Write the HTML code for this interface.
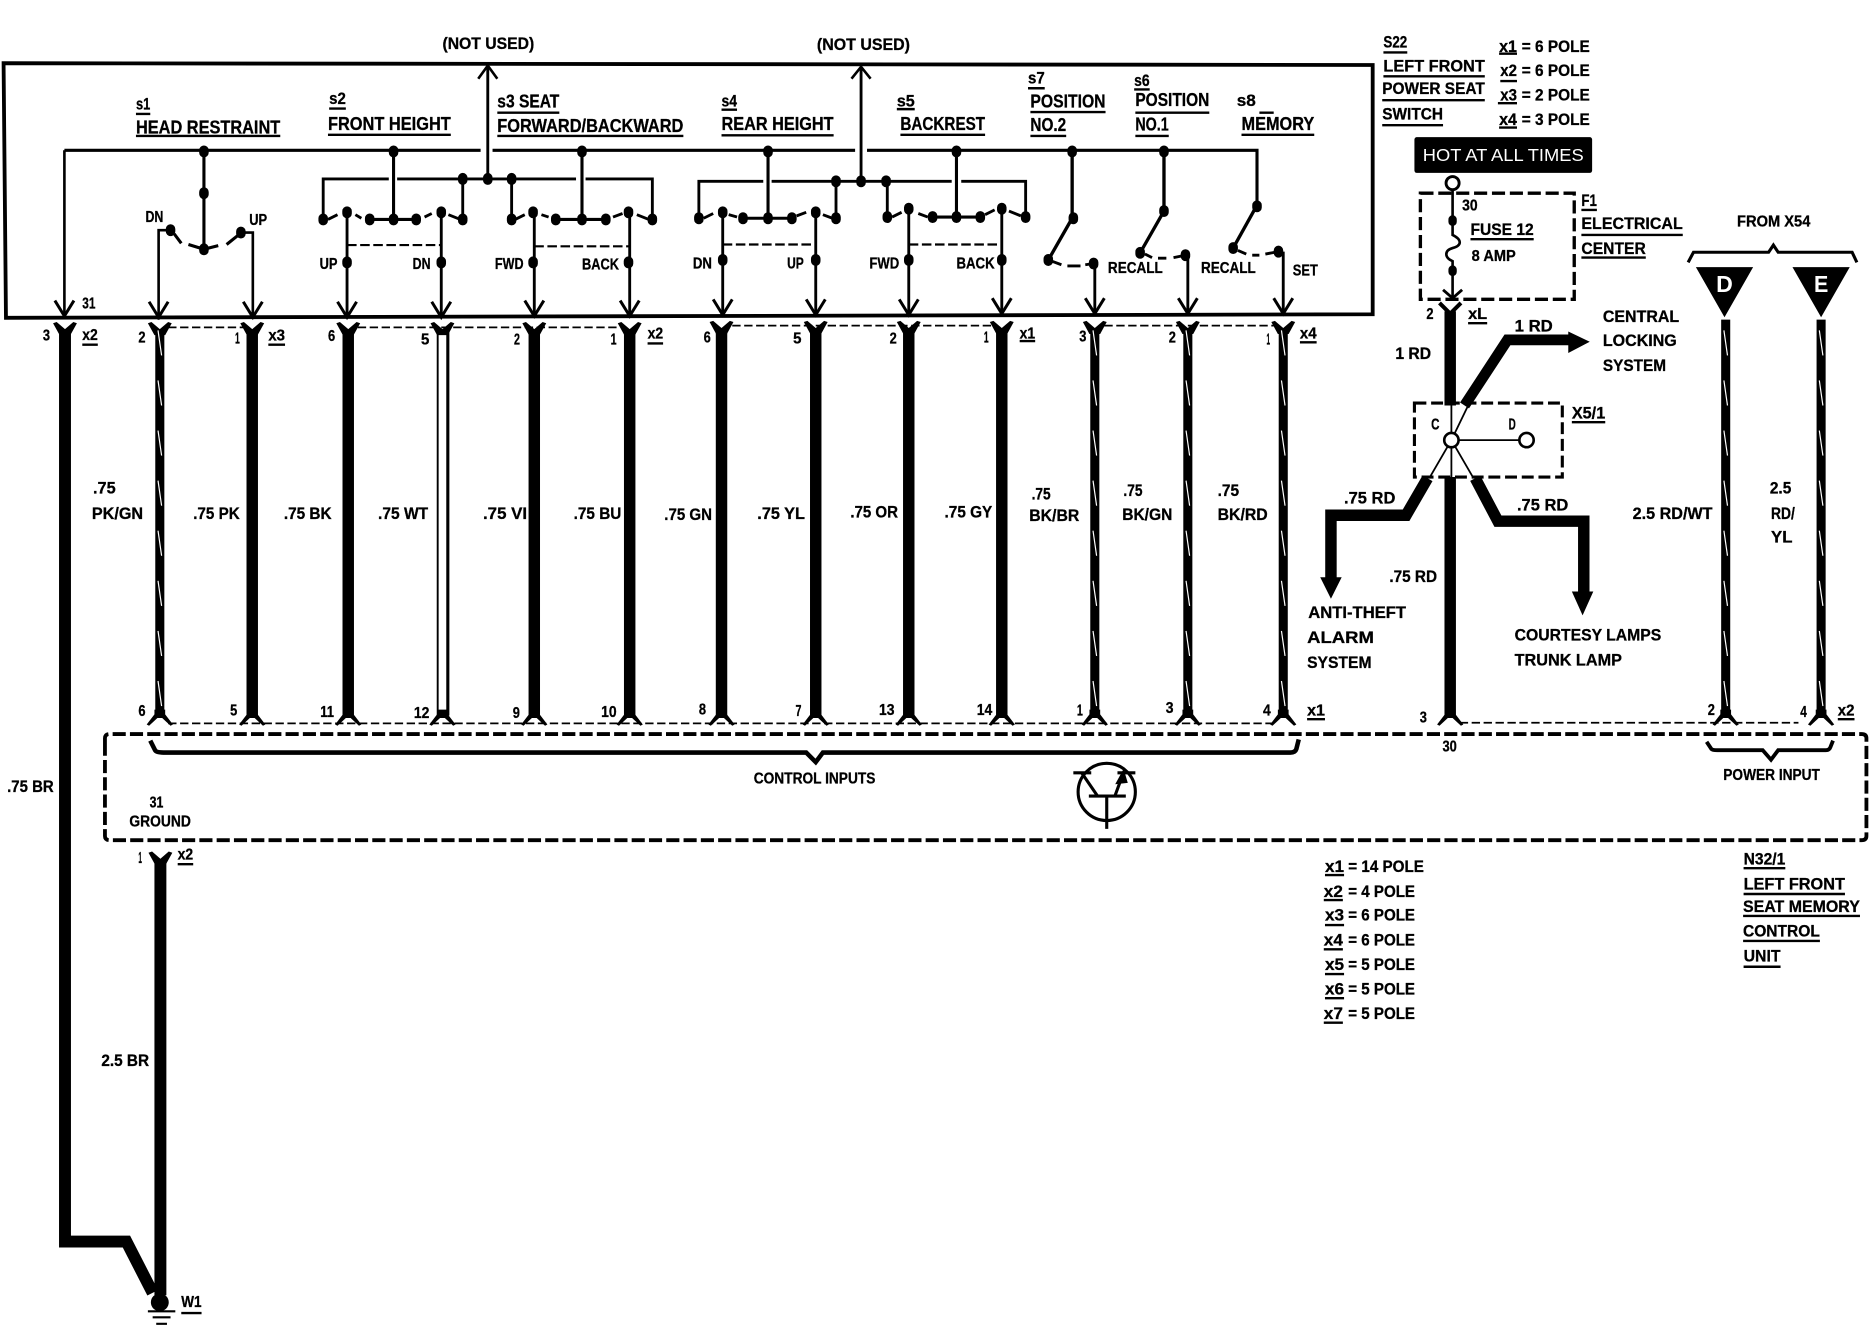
<!DOCTYPE html>
<html><head><meta charset="utf-8"><title>Seat memory wiring diagram</title>
<style>
html,body{margin:0;padding:0;background:#fff}
svg{display:block;width:1870px;height:1328px}
text{font-family:"Liberation Sans",sans-serif;font-weight:bold;fill:#000;font-size:14px;stroke:#000;stroke-width:.25}
.b{font-size:15.5px}.s{font-size:13px}
</style></head><body>
<svg viewBox="0 0 1568 1113.5" preserveAspectRatio="none" xmlns="http://www.w3.org/2000/svg">
<defs>
<g id="a"><path d="M-8,-13L0,0L8,-13" fill="none" stroke="#000" stroke-width="2.5"/></g>
<g id="t"><path d="M-10,0L-7,-1L0,5L7,-1L10,0L4.5,10H-4.5Z" fill="#000"/></g>
<g id="f"><path d="M-11,9.5L-9,10.5L-2,4L2,4L9,10.5L11,9.5L4.5,1V-3H-4.5V1Z" fill="#000"/></g>
<g id="r"><path d="M-1.5,277l3,21M-1.5,319l3,21M-1.5,361l3,21M-1.5,403l3,21M-1.5,445l3,21M-1.5,487l3,21M-1.5,529l3,21M-1.5,571l3,21" fill="none" stroke="#fff" stroke-width="1"/></g>
</defs>
<rect width="1568" height="1113.5" fill="#fff"/>

<!-- switch box -->
<path d="M3,53L1151,54.5V263.5L5,266.5Z" fill="none" stroke="#000" stroke-width="3.2"/>

<!-- buses -->
<g fill="none" stroke="#000">
<path d="M54,126H403M413,126H717M727,126H1054V173" stroke-width="2.6"/>
<path d="M271,184V150H326M333,150H483M491,150H547V184M388,150V184M429,150V184" stroke-width="2.4"/>
<path d="M586,183V152H640M647,152H798M806,152H860V182M701,152V183M744,152V182" stroke-width="2.4"/>
<path d="M409,150V55M722,152V56" stroke-width="2.4"/>
<path d="M401,66L409,55L417,66M714,66L722,56L730,66" stroke-width="2.2"/>
<!-- drop wires -->
<path d="M54,126V265M133,268V193H143M212,266V195H203" stroke-width="2.2"/>
<path d="M171,126V208M330,126V184M488,126V184M644,126V183M802,126V182" stroke-width="2.6"/>
<path d="M291,178V266M370,178V266M448,178V266M528,178V266M606,178V265M684,178V265M762,175V265M840,175V264M918,221V264M996,214V264M1076,211V264" stroke-width="2.4"/>
<path d="M310,184H350M466,184H508M623,183H664M782,182H822" stroke-width="2.6"/>
<!-- movable contacts -->
<path d="M146,196L152,204M158,205L171,209L183,206M190,205L200,197" stroke-width="2.6"/>
<path d="M275,184L283,180M298,180L303,183M356,182L362,179M376,180L386,184M432,184L440,180M454,180L460,182M514,182L522,179M534,180L544,184" stroke-width="2.4"/>
<path d="M590,183L598,179M611,180L618,182M668,181L676,178M690,180L698,183M748,182L756,178M770,179L778,182M826,180L834,176M846,177L856,181" stroke-width="2.4"/>
<path d="M899,126V183L879,218" stroke-width="2.8"/>
<path d="M976,126V177L956,212" stroke-width="2.8"/>
<path d="M1054,172L1034,208" stroke-width="2.8"/>
<path d="M882,219L890,222M895,223H906M910,222L917,221" stroke-width="2.4"/>
<path d="M960,213L966,216M971,216.5H978M984,216L994,214" stroke-width="2.4"/>
<path d="M1038,210L1045,213M1050,214H1056M1061,213L1072,211" stroke-width="2.4"/>
<!-- dashed ganged -->
<path d="M291,205.5H370M448,206.5H527M606,205H684M762,205H840" stroke-width="1.8" stroke-dasharray="8 3"/>
<!-- connector dashes -->
<path d="M141,274.5H204M300,274.5H520M614,273H832M926,273H1068M141,606.5H1070M1224,606H1508" stroke-width="1.5" stroke-dasharray="7 3"/>
<!-- control unit -->
<path d="M88,625V619Q88,615.5 92,615.5H1561Q1565,615.5 1565,619V701Q1565,704.5 1561,704.5H92Q88,704.5 88,701V625" stroke-width="3.2" stroke-dasharray="11 3.5"/>
<!-- fuse box -->
<path d="M1191,162H1320V251H1191Z" stroke-width="2.8" stroke-dasharray="11 4"/>
<!-- X5/1 box -->
<path d="M1186,338H1310V400H1186Z" stroke-width="2.6" stroke-dasharray="10 4"/>
<!-- braces -->
<path d="M126,621L130,629Q131,631 137,631H676L684,639L690,631H1082Q1086,631 1087,628L1089,620" stroke-width="3.8"/>
<path d="M1431,622L1435,628Q1436,629 1440,629H1478L1485,637L1491,629H1531Q1534,629 1535,626L1537,621" stroke-width="3.2"/>
<path d="M1415.5,220L1420,211.5H1483L1487,205.5L1491,211.5H1553L1557,220" stroke-width="2.6"/>
<!-- transistor -->
<ellipse cx="928" cy="664" rx="24" ry="24" stroke-width="2.6"/>
<path d="M900,648H915M907,648L920,667M913,667.5H944M928,667V695M942,648L935,667M937,648H952" stroke-width="2.6"/>
<path d="M942,646L936,657L945,656Z" fill="#000" stroke-width="1"/>
<!-- fuse wire -->
<path d="M1218,158V197C1226,201 1226,206 1218,208C1211,210 1211,216 1218,219V250" stroke-width="2.2"/>
<path d="M1210,243L1218,250L1226,243" stroke-width="2.4"/>
<path d="M1207,254L1216,263L1225,254" stroke-width="3.4"/>
<!-- junction thin lines -->
<path d="M1217,340V400M1217,369L1232,338M1217,369L1199,400M1217,369L1235,400M1217,369H1280" stroke-width="1.5"/>
<!-- thick branches -->
<path d="M1228,340L1264,285H1316" stroke-width="9"/>
<path d="M1197,401L1179,432H1116V486" stroke-width="9.6"/>
<path d="M1237,401L1256,437H1328V498" stroke-width="9.6"/>
<!-- main thick wires -->
<path d="M54.5,278V1041H106L128,1084M134.5,722V1086" stroke-width="10" stroke-linejoin="miter"/>
<path d="M211.5,278V600M292,278V600M448,278V600M528,278V600M605,278V600M684,278V600M762,278V600M840,278V600M1216,261V340M1216,400V600" stroke-width="9.6"/>
<path d="M134,278V600M918,278V600M996,278V600M1076,278V600M1447,268V600M1527,268V600" stroke-width="7.6"/>
<path d="M367,278V600" stroke-width="1.6"/><path d="M375.5,278V600" stroke-width="2.6"/>
</g>

<!-- dots -->
<path d="M171,126v2M330,126v2M488,126v2M644,126v2M802,126v2M899,126v2M976,126v2M171,161v2M171,208v2M143,192v2M202,194v2M271,183v2M291,177v2M310,183v2M330,183v2M349,183v2M370,177v2M388,183v2M388,149v2M409,149v2M429,149v2M429,183v2M447,177v2M466,183v2M488,183v2M508,183v2M527,177v2M547,183v2M291,219v2M370,219v2M447,219v2M527,219v2M586,182v2M606,177v2M623,182v2M644,182v2M664,182v2M684,177v2M701,182v2M701,151v2M722,151v2M743,151v2M744,181v2M762,174v2M782,181v2M802,181v2M822,181v2M840,174v2M860,181v2M606,217v2M684,217v2M762,217v2M840,217v2M900,182v2M879,217v2M917,220v2M976,176v2M956,211v2M994,213v2M1054,172v2M1034,207v2M1072,210v2" fill="none" stroke="#000" stroke-width="8" stroke-linecap="round"/>
<path d="M1218,184v2M1218,226v2" fill="none" stroke="#000" stroke-width="7" stroke-linecap="round"/>

<!-- arrows into box -->
<g>
<use href="#a" x="54" y="265"/><use href="#a" x="133" y="266"/><use href="#a" x="212" y="266"/><use href="#a" x="291" y="266"/><use href="#a" x="370" y="266"/><use href="#a" x="448" y="265"/><use href="#a" x="528" y="265"/><use href="#a" x="606" y="264"/><use href="#a" x="684" y="264"/><use href="#a" x="762" y="264"/><use href="#a" x="840" y="263"/><use href="#a" x="918" y="263"/><use href="#a" x="996" y="263"/><use href="#a" x="1076" y="263"/>
</g>
<!-- top forks -->
<g>
<use href="#t" x="54.5" y="271"/><use href="#t" x="134" y="271"/><use href="#t" x="211.5" y="271"/><use href="#t" x="292" y="271"/><use href="#t" x="371" y="271"/><use href="#t" x="448" y="271"/><use href="#t" x="528" y="271"/><use href="#t" x="605" y="270"/><use href="#t" x="684" y="270"/><use href="#t" x="762" y="270"/><use href="#t" x="840" y="270"/><use href="#t" x="918" y="270"/><use href="#t" x="996" y="270"/><use href="#t" x="1076" y="270"/>
</g>
<!-- bottom forks -->
<g>
<use href="#f" x="134" y="598"/><use href="#f" x="211.5" y="598"/><use href="#f" x="292" y="598"/><use href="#f" x="371" y="598"/><use href="#f" x="448" y="598"/><use href="#f" x="528" y="598"/><use href="#f" x="605" y="598"/><use href="#f" x="684" y="598"/><use href="#f" x="762" y="598"/><use href="#f" x="840" y="598"/><use href="#f" x="918" y="598"/><use href="#f" x="996" y="598"/><use href="#f" x="1076" y="598"/><use href="#f" x="1216" y="598"/><use href="#f" x="1447" y="598"/><use href="#f" x="1527" y="598"/>
</g>
<use href="#t" x="134.5" y="715"/>
<!-- stripes -->
<g>
<use href="#r" x="134"/><use href="#r" x="918"/><use href="#r" x="996"/><use href="#r" x="1076"/><use href="#r" x="1447"/><use href="#r" x="1527"/>
</g>
<!-- arrow heads right -->
<path d="M1315,278L1333,286.5L1315,296ZM1107,484H1125L1116,502ZM1318,496H1336L1327,516Z" fill="#000"/>
<!-- D / E triangles -->
<path d="M1422,224H1470L1446,266ZM1503,224H1551L1527,266Z" fill="#000"/>
<text x="1439" y="245" style="font-size:19px;fill:#fff;stroke:none" textLength="14" lengthAdjust="spacingAndGlyphs">D</text>
<text x="1521" y="245" style="font-size:19px;fill:#fff;stroke:none" textLength="12" lengthAdjust="spacingAndGlyphs">E</text>
<!-- circles -->
<circle cx="1218" cy="153.5" r="5.5" fill="#fff" stroke="#000" stroke-width="2.4"/>
<circle cx="1217" cy="369" r="6" fill="#fff" stroke="#000" stroke-width="2.2"/>
<circle cx="1280" cy="369" r="6" fill="#fff" stroke="#000" stroke-width="2.2"/>
<!-- ground -->
<circle cx="134" cy="1092" r="7.5" fill="#000"/>
<path d="M124,1099.5H147M128,1104.5H143M131,1110H140" stroke="#000" stroke-width="1.8"/>
<!-- hot label -->
<rect x="1186" y="115" width="149" height="30" rx="2" fill="#000"/>
<text x="1193" y="135" style="fill:#fff;stroke:none;font-weight:normal;font-size:15px" textLength="135" lengthAdjust="spacingAndGlyphs">HOT AT ALL TIMES</text>

<!-- underlines -->
<path d="M114,95.5H126M114,114H235M276,91H290M275,113H378M417,94.5H469M417,114H573M605,92H618M605,113.5H699M752,91.5H767M755,113H826M862,74H876M864,94H927M864,114H894M951,75H964M952,94.5H1014M952,114H980M1056,94.5H1068M1041,113H1102M69,289H82M225,289H239M543,288H556M855,286H868M1090,287H1104M1160,44H1180M1160,64H1245M1159,84H1245M1159,105H1210M1257,45H1272M1258,68H1272M1256,86.5H1272M1257,107H1272M1233,200.6H1286M1326,176H1339M1326,197H1411M1326,216H1380M1231,271H1247M1318,354H1346M1096,603H1111M1541,603H1555M149,724.6H162M152,1101H169M1111,733.7H1127M1110,754.7H1126M1111,775.6H1127M1110,796H1126M1111,816.7H1127M1111,837H1127M1110,857.5H1126M1462,728H1497M1462,749.6H1547M1461.6,768H1559.6M1461.6,789H1526M1462,810.6H1493" fill="none" stroke="#000" stroke-width="2"/>

<!-- switch labels -->
<g>
<text x="371" y="41" textLength="77" lengthAdjust="spacingAndGlyphs">(NOT USED)</text>
<text x="685" y="42" textLength="78" lengthAdjust="spacingAndGlyphs">(NOT USED)</text>
<text x="114" y="92" textLength="12" lengthAdjust="spacingAndGlyphs">s1</text>
<text class="b" x="114" y="112" textLength="121" lengthAdjust="spacingAndGlyphs">HEAD RESTRAINT</text>
<text x="276" y="87" textLength="14" lengthAdjust="spacingAndGlyphs">s2</text>
<text class="b" x="275" y="109" textLength="103" lengthAdjust="spacingAndGlyphs">FRONT HEIGHT</text>
<text class="b" x="417" y="90" textLength="52" lengthAdjust="spacingAndGlyphs">s3 SEAT</text>
<text class="b" x="417" y="110.5" textLength="156" lengthAdjust="spacingAndGlyphs">FORWARD/BACKWARD</text>
<text x="605" y="89.5" textLength="13" lengthAdjust="spacingAndGlyphs">s4</text>
<text class="b" x="605" y="109" textLength="94" lengthAdjust="spacingAndGlyphs">REAR HEIGHT</text>
<text x="752" y="89.5" textLength="15" lengthAdjust="spacingAndGlyphs">s5</text>
<text class="b" x="755" y="109" textLength="71" lengthAdjust="spacingAndGlyphs">BACKREST</text>
<text x="862" y="70" textLength="14" lengthAdjust="spacingAndGlyphs">s7</text>
<text class="b" x="864" y="90" textLength="63" lengthAdjust="spacingAndGlyphs">POSITION</text>
<text class="b" x="864" y="110" textLength="30" lengthAdjust="spacingAndGlyphs">NO.2</text>
<text x="951" y="72" textLength="13" lengthAdjust="spacingAndGlyphs">s6</text>
<text class="b" x="952" y="89" textLength="62" lengthAdjust="spacingAndGlyphs">POSITION</text>
<text class="b" x="952" y="109.5" textLength="28" lengthAdjust="spacingAndGlyphs">NO.1</text>
<text x="1037" y="89" textLength="16" lengthAdjust="spacingAndGlyphs">s8</text>
<text class="b" x="1041" y="109" textLength="61" lengthAdjust="spacingAndGlyphs">MEMORY</text>

<text class="s" x="122" y="186" textLength="15" lengthAdjust="spacingAndGlyphs">DN</text>
<text class="s" x="209" y="188.5" textLength="15" lengthAdjust="spacingAndGlyphs">UP</text>
<text class="s" x="268" y="225.5" textLength="15" lengthAdjust="spacingAndGlyphs">UP</text>
<text class="s" x="346" y="225.5" textLength="15" lengthAdjust="spacingAndGlyphs">DN</text>
<text class="s" x="415" y="225.5" textLength="24" lengthAdjust="spacingAndGlyphs">FWD</text>
<text class="s" x="488" y="226" textLength="31" lengthAdjust="spacingAndGlyphs">BACK</text>
<text class="s" x="581" y="225" textLength="16" lengthAdjust="spacingAndGlyphs">DN</text>
<text class="s" x="660" y="225" textLength="14" lengthAdjust="spacingAndGlyphs">UP</text>
<text class="s" x="729" y="225" textLength="25" lengthAdjust="spacingAndGlyphs">FWD</text>
<text class="s" x="802" y="225" textLength="32" lengthAdjust="spacingAndGlyphs">BACK</text>
<text class="s" x="929" y="229" textLength="46" lengthAdjust="spacingAndGlyphs">RECALL</text>
<text class="s" x="1007" y="229" textLength="46" lengthAdjust="spacingAndGlyphs">RECALL</text>
<text class="s" x="1084" y="231" textLength="21" lengthAdjust="spacingAndGlyphs">SET</text>
<text class="s" x="69" y="258.5" textLength="11" lengthAdjust="spacingAndGlyphs">31</text>

<!-- top pins -->
<text class="s" x="36" y="285.5" textLength="6" lengthAdjust="spacingAndGlyphs">3</text>
<text class="s" x="69" y="285" textLength="13" lengthAdjust="spacingAndGlyphs">x2</text>
<text class="s" x="116" y="287" textLength="6" lengthAdjust="spacingAndGlyphs">2</text>
<text class="s" x="197" y="288" textLength="4" lengthAdjust="spacingAndGlyphs">1</text>
<text class="s" x="225" y="285.5" textLength="14" lengthAdjust="spacingAndGlyphs">x3</text>
<text class="s" x="275" y="286" textLength="6" lengthAdjust="spacingAndGlyphs">6</text>
<text class="s" x="353" y="289" textLength="7" lengthAdjust="spacingAndGlyphs">5</text>
<text class="s" x="431" y="289" textLength="5" lengthAdjust="spacingAndGlyphs">2</text>
<text class="s" x="512" y="289" textLength="5" lengthAdjust="spacingAndGlyphs">1</text>
<text class="s" x="543" y="284" textLength="13" lengthAdjust="spacingAndGlyphs">x2</text>
<text class="s" x="590" y="287" textLength="6" lengthAdjust="spacingAndGlyphs">6</text>
<text class="s" x="665" y="288" textLength="7" lengthAdjust="spacingAndGlyphs">5</text>
<text class="s" x="746" y="288" textLength="6" lengthAdjust="spacingAndGlyphs">2</text>
<text class="s" x="825" y="287" textLength="4" lengthAdjust="spacingAndGlyphs">1</text>
<text class="s" x="855" y="284" textLength="13" lengthAdjust="spacingAndGlyphs">x1</text>
<text class="s" x="905" y="286.5" textLength="6" lengthAdjust="spacingAndGlyphs">3</text>
<text class="s" x="980" y="287" textLength="6" lengthAdjust="spacingAndGlyphs">2</text>
<text class="s" x="1062" y="289" textLength="3" lengthAdjust="spacingAndGlyphs">1</text>
<text class="s" x="1090" y="284" textLength="14" lengthAdjust="spacingAndGlyphs">x4</text>

<!-- wire labels -->
<text x="78" y="414" textLength="19" lengthAdjust="spacingAndGlyphs">.75</text>
<text x="77" y="435" textLength="43" lengthAdjust="spacingAndGlyphs">PK/GN</text>
<text x="162" y="435" textLength="39" lengthAdjust="spacingAndGlyphs">.75 PK</text>
<text x="238" y="435" textLength="40" lengthAdjust="spacingAndGlyphs">.75 BK</text>
<text x="317" y="435" textLength="42" lengthAdjust="spacingAndGlyphs">.75 WT</text>
<text x="405" y="435" textLength="37" lengthAdjust="spacingAndGlyphs">.75 VI</text>
<text x="481" y="435" textLength="40" lengthAdjust="spacingAndGlyphs">.75 BU</text>
<text x="557" y="436" textLength="40" lengthAdjust="spacingAndGlyphs">.75 GN</text>
<text x="635" y="435" textLength="40" lengthAdjust="spacingAndGlyphs">.75 YL</text>
<text x="713" y="434" textLength="40" lengthAdjust="spacingAndGlyphs">.75 OR</text>
<text x="792" y="434" textLength="40" lengthAdjust="spacingAndGlyphs">.75 GY</text>
<text x="865" y="419" textLength="16" lengthAdjust="spacingAndGlyphs">.75</text>
<text x="863" y="437" textLength="42" lengthAdjust="spacingAndGlyphs">BK/BR</text>
<text x="942" y="416" textLength="16" lengthAdjust="spacingAndGlyphs">.75</text>
<text x="941" y="436" textLength="42" lengthAdjust="spacingAndGlyphs">BK/GN</text>
<text x="1021" y="416" textLength="18" lengthAdjust="spacingAndGlyphs">.75</text>
<text x="1021" y="436" textLength="42" lengthAdjust="spacingAndGlyphs">BK/RD</text>
<text x="6" y="664" textLength="39" lengthAdjust="spacingAndGlyphs">.75 BR</text>
<text x="85" y="894" textLength="40" lengthAdjust="spacingAndGlyphs">2.5 BR</text>
<text x="1127" y="422" textLength="43" lengthAdjust="spacingAndGlyphs">.75 RD</text>
<text x="1165" y="488" textLength="40" lengthAdjust="spacingAndGlyphs">.75 RD</text>
<text x="1272" y="428" textLength="43" lengthAdjust="spacingAndGlyphs">.75 RD</text>
<text x="1170" y="301" textLength="30" lengthAdjust="spacingAndGlyphs">1 RD</text>
<text x="1270" y="278" textLength="32" lengthAdjust="spacingAndGlyphs">1 RD</text>
<text x="1369" y="435" textLength="67" lengthAdjust="spacingAndGlyphs">2.5 RD/WT</text>
<text x="1484" y="414" textLength="18" lengthAdjust="spacingAndGlyphs">2.5</text>
<text x="1485" y="435" textLength="20" lengthAdjust="spacingAndGlyphs">RD/</text>
<text x="1485" y="455" textLength="18" lengthAdjust="spacingAndGlyphs">YL</text>
<text x="1097" y="518" textLength="82" lengthAdjust="spacingAndGlyphs">ANTI-THEFT</text>
<text x="1096" y="539" textLength="56" lengthAdjust="spacingAndGlyphs">ALARM</text>
<text x="1096" y="560" textLength="54" lengthAdjust="spacingAndGlyphs">SYSTEM</text>
<text x="1270" y="537" textLength="123" lengthAdjust="spacingAndGlyphs">COURTESY LAMPS</text>
<text x="1270" y="558" textLength="90" lengthAdjust="spacingAndGlyphs">TRUNK LAMP</text>
<text x="1344" y="270" textLength="64" lengthAdjust="spacingAndGlyphs">CENTRAL</text>
<text x="1344" y="290" textLength="62" lengthAdjust="spacingAndGlyphs">LOCKING</text>
<text x="1344" y="311" textLength="53" lengthAdjust="spacingAndGlyphs">SYSTEM</text>
<text x="1318" y="351" textLength="28" lengthAdjust="spacingAndGlyphs">X5/1</text>
<text class="s" x="1200" y="360" textLength="7" lengthAdjust="spacingAndGlyphs">C</text>
<text class="s" x="1265" y="360" textLength="6" lengthAdjust="spacingAndGlyphs">D</text>

<!-- S22 -->
<text x="1160" y="40" textLength="20" lengthAdjust="spacingAndGlyphs">S22</text>
<text x="1160" y="60" textLength="85" lengthAdjust="spacingAndGlyphs">LEFT FRONT</text>
<text x="1159" y="79" textLength="86" lengthAdjust="spacingAndGlyphs">POWER SEAT</text>
<text x="1159" y="100" textLength="51" lengthAdjust="spacingAndGlyphs">SWITCH</text>
<text x="1257" y="43.5" textLength="15" lengthAdjust="spacingAndGlyphs">x1</text><text x="1276" y="43.5" textLength="57" lengthAdjust="spacingAndGlyphs">= 6 POLE</text>
<text x="1258" y="63.7" textLength="14" lengthAdjust="spacingAndGlyphs">x2</text><text x="1276" y="63.7" textLength="57" lengthAdjust="spacingAndGlyphs">= 6 POLE</text>
<text x="1258" y="84.4" textLength="14" lengthAdjust="spacingAndGlyphs">x3</text><text x="1276" y="84.4" textLength="57" lengthAdjust="spacingAndGlyphs">= 2 POLE</text>
<text x="1257" y="105" textLength="15" lengthAdjust="spacingAndGlyphs">x4</text><text x="1276" y="105" textLength="57" lengthAdjust="spacingAndGlyphs">= 3 POLE</text>

<!-- fuse -->
<text class="s" x="1226" y="176.7" textLength="13" lengthAdjust="spacingAndGlyphs">30</text>
<text x="1233" y="197" textLength="53" lengthAdjust="spacingAndGlyphs">FUSE 12</text>
<text class="s" x="1234" y="219" textLength="37" lengthAdjust="spacingAndGlyphs">8 AMP</text>
<text x="1326" y="172.7" textLength="13" lengthAdjust="spacingAndGlyphs">F1</text>
<text x="1326" y="192" textLength="85" lengthAdjust="spacingAndGlyphs">ELECTRICAL</text>
<text x="1326" y="213" textLength="54" lengthAdjust="spacingAndGlyphs">CENTER</text>
<text class="s" x="1456.5" y="190" textLength="61.5" lengthAdjust="spacingAndGlyphs">FROM X54</text>
<text class="s" x="1196" y="267.6" textLength="6" lengthAdjust="spacingAndGlyphs">2</text>
<text class="s" x="1231" y="267.6" textLength="16" lengthAdjust="spacingAndGlyphs">xL</text>

<!-- bottom pins -->
<text class="s" x="116" y="600.5" textLength="6" lengthAdjust="spacingAndGlyphs">6</text>
<text class="s" x="193" y="600" textLength="6" lengthAdjust="spacingAndGlyphs">5</text>
<text class="s" x="268.5" y="601" textLength="11.5" lengthAdjust="spacingAndGlyphs">11</text>
<text class="s" x="347" y="602" textLength="13" lengthAdjust="spacingAndGlyphs">12</text>
<text class="s" x="430" y="602" textLength="6" lengthAdjust="spacingAndGlyphs">9</text>
<text class="s" x="504" y="601" textLength="13" lengthAdjust="spacingAndGlyphs">10</text>
<text class="s" x="586" y="599" textLength="6" lengthAdjust="spacingAndGlyphs">8</text>
<text class="s" x="667" y="600.5" textLength="5" lengthAdjust="spacingAndGlyphs">7</text>
<text class="s" x="737" y="599.5" textLength="13" lengthAdjust="spacingAndGlyphs">13</text>
<text class="s" x="819" y="599.5" textLength="13" lengthAdjust="spacingAndGlyphs">14</text>
<text class="s" x="903" y="600" textLength="5" lengthAdjust="spacingAndGlyphs">1</text>
<text class="s" x="977.5" y="598" textLength="6.5" lengthAdjust="spacingAndGlyphs">3</text>
<text class="s" x="1059" y="600" textLength="6.5" lengthAdjust="spacingAndGlyphs">4</text>
<text class="s" x="1096" y="600" textLength="15" lengthAdjust="spacingAndGlyphs">x1</text>
<text class="s" x="1190.5" y="606" textLength="6" lengthAdjust="spacingAndGlyphs">3</text>
<text class="s" x="1209.5" y="630" textLength="12" lengthAdjust="spacingAndGlyphs">30</text>
<text class="s" x="1432" y="599.5" textLength="6" lengthAdjust="spacingAndGlyphs">2</text>
<text class="s" x="1509.5" y="601" textLength="5.5" lengthAdjust="spacingAndGlyphs">4</text>
<text class="s" x="1541" y="600" textLength="14" lengthAdjust="spacingAndGlyphs">x2</text>
<text class="s" x="632" y="657" textLength="102" lengthAdjust="spacingAndGlyphs">CONTROL INPUTS</text>
<text class="s" x="1445" y="654" textLength="81" lengthAdjust="spacingAndGlyphs">POWER INPUT</text>
<text class="s" x="125.5" y="677" textLength="11.5" lengthAdjust="spacingAndGlyphs">31</text>
<text class="s" x="108.5" y="693" textLength="51.5" lengthAdjust="spacingAndGlyphs">GROUND</text>
<text class="s" x="116" y="723.5" textLength="3" lengthAdjust="spacingAndGlyphs">1</text>
<text class="s" x="149" y="720.5" textLength="13" lengthAdjust="spacingAndGlyphs">x2</text>
<text class="s" x="152" y="1096" textLength="17" lengthAdjust="spacingAndGlyphs">W1</text>

<!-- pole list -->
<text x="1111" y="731" textLength="16" lengthAdjust="spacingAndGlyphs">x1</text><text x="1130.5" y="731" textLength="63.5" lengthAdjust="spacingAndGlyphs">= 14 POLE</text>
<text x="1110" y="752" textLength="16" lengthAdjust="spacingAndGlyphs">x2</text><text x="1130.5" y="752" textLength="56" lengthAdjust="spacingAndGlyphs">= 4 POLE</text>
<text x="1111" y="772" textLength="16" lengthAdjust="spacingAndGlyphs">x3</text><text x="1130.5" y="772" textLength="56" lengthAdjust="spacingAndGlyphs">= 6 POLE</text>
<text x="1110" y="793" textLength="16" lengthAdjust="spacingAndGlyphs">x4</text><text x="1130.5" y="793" textLength="56" lengthAdjust="spacingAndGlyphs">= 6 POLE</text>
<text x="1111" y="813.4" textLength="16" lengthAdjust="spacingAndGlyphs">x5</text><text x="1130.5" y="813.4" textLength="56" lengthAdjust="spacingAndGlyphs">= 5 POLE</text>
<text x="1111" y="834" textLength="16" lengthAdjust="spacingAndGlyphs">x6</text><text x="1130.5" y="834" textLength="56" lengthAdjust="spacingAndGlyphs">= 5 POLE</text>
<text x="1110" y="854.6" textLength="16" lengthAdjust="spacingAndGlyphs">x7</text><text x="1130.5" y="854.6" textLength="56" lengthAdjust="spacingAndGlyphs">= 5 POLE</text>
<text x="1462" y="725" textLength="35" lengthAdjust="spacingAndGlyphs">N32/1</text>
<text x="1462" y="746" textLength="85" lengthAdjust="spacingAndGlyphs">LEFT FRONT</text>
<text x="1461.5" y="764.5" textLength="98" lengthAdjust="spacingAndGlyphs">SEAT MEMORY</text>
<text x="1461.5" y="785.4" textLength="64.5" lengthAdjust="spacingAndGlyphs">CONTROL</text>
<text x="1462" y="806.4" textLength="31" lengthAdjust="spacingAndGlyphs">UNIT</text>
</g>
</svg>
</body></html>
